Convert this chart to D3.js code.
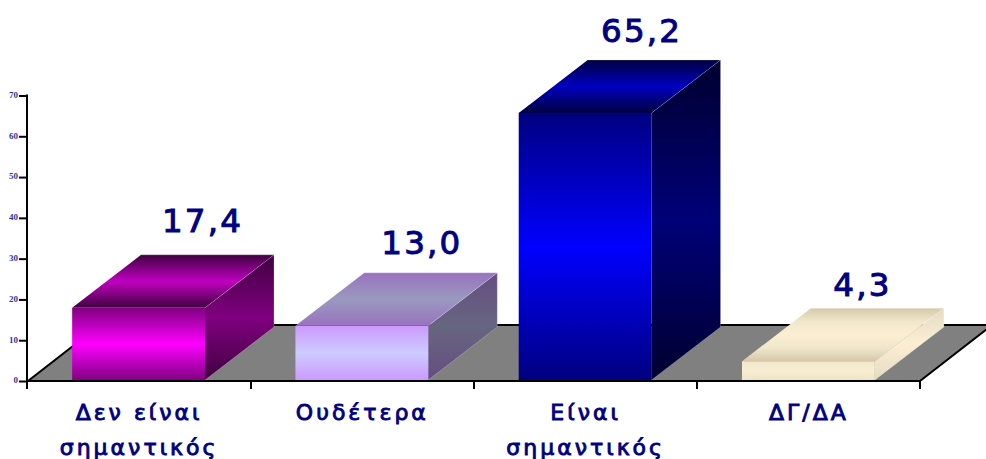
<!DOCTYPE html>
<html><head><meta charset="utf-8">
<script src="https://cdn.jsdelivr.net/npm/d3@7"></script>
<style>html,body{margin:0;padding:0;background:#fff}svg{display:block}</style>
</head><body><svg id="c" width="986" height="459"></svg>
<script>
const categories = [["Δεν είναι","σημαντικός"],["Ουδέτερα"],["Είναι","σημαντικός"],["ΔΓ/ΔΑ"]];
const values = [17.4, 13.0, 65.2, 4.3];
const valueLabels = ["17,4","13,0","65,2","4,3"];
const yTicks = [0,10,20,30,40,50,60,70];

const palettes = [
  {front:["#800080","#ff00ff","#800080"],top:["#400040","#c000c0","#400040"],side:["#400040","#800080","#400040"]},
  {front:["#cc99ff","#ccccff","#cc99ff"],top:["#9973bf","#9999bf","#9973bf"],side:["#664d80","#666680","#664d80"]},
  {front:["#000080","#0000ff","#000080"],top:["#000040","#0000c0","#000040"],side:["#000030","#000078","#000030"]},
  {front:["#f0e8cc","#f9eed2","#ede3c5"],top:["#d5c9a9","#f0e8cc","#fceed2","#efe7cc","#d5c8a8"],side:["#e4dcc2","#fbeed3","#e4dcc2"]}
];
const labelDx = [64,60,56.5,54], labelBaseOffset = [77,72,72,65.5];
const depthX = 69, depthY = 53, lift = 2.2, floorDepthX = 72, floorDepthY = 56;

const svg = d3.select("#c"), defs = svg.append("defs");
const x = d3.scaleBand().domain(d3.range(4)).range([27.5,919.5]).paddingInner(0.405).paddingOuter(0.2);
const y = d3.scaleLinear().domain([0,70]).range([381,95.5]);
const x0 = 28, x1 = 920, y0 = y(0);
const poly = p => p.map(d=>d.join(",")).join(" ");

// floor
svg.append("polygon").attr("points",poly([[x0,y0],[x1,y0],[x1+floorDepthX,y0-floorDepthY],[x0+floorDepthX,y0-floorDepthY]])).attr("fill","#808080");
svg.append("path").attr("d",`M${x0},${y0}L${x0+floorDepthX},${y0-floorDepthY}L${x1+floorDepthX},${y0-floorDepthY}L${x1},${y0}`).attr("fill","none").attr("stroke","#000").attr("stroke-width",2);

function grad(id,cols,ya,yb){
  const g = defs.append("linearGradient").attr("id",id).attr("gradientUnits","userSpaceOnUse").attr("x1",0).attr("x2",0).attr("y1",ya).attr("y2",yb);
  cols.forEach((c,i)=>g.append("stop").attr("offset",i/(cols.length-1)).attr("stop-color",c));
}
values.forEach((v,i)=>{
  const l=x(i), r=l+x.bandwidth(), t=y(v)-lift, b=y0-1, p=palettes[i];
  grad(`f${i}`,p.front,t,b);
  grad(`t${i}`,p.top,t-depthY,t);
  grad(`s${i}`,p.side,t-depthY,b);
  const g = svg.append("g");
  g.append("polygon").attr("points",poly([[r,t],[r+depthX,t-depthY],[r+depthX,b-depthY],[r,b]])).attr("fill",`url(#s${i})`);
  g.append("polygon").attr("points",poly([[l,t],[l+depthX,t-depthY],[r+depthX,t-depthY],[r,t]])).attr("fill",`url(#t${i})`);
  g.append("rect").attr("x",l).attr("y",t).attr("width",r-l).attr("height",b-t).attr("fill",`url(#f${i})`);
  g.append("path").attr("d",`M${r},${t}L${r+depthX},${t-depthY}M${l+depthX},${t-depthY}H${r+depthX}V${b-depthY}L${r},${b}`)
    .attr("fill","none").attr("stroke","#fff").attr("stroke-opacity",0.22).attr("stroke-width",1);
  svg.append("text").attr("x",(l+r)/2+labelDx[i]).attr("y",y(v)-labelBaseOffset[i]-1.5).attr("text-anchor","middle")
    .attr("font-family","DejaVu Sans").attr("font-size",32.5).attr("letter-spacing",2.2)
    .attr("fill","#000080").attr("stroke","#000080").attr("stroke-width",1).text(valueLabels[i]);
});

// axes
const yAxis = d3.axisLeft(y).tickValues(yTicks).tickSize(8).tickPadding(1);
const ya = svg.append("g").attr("transform",`translate(${x0-1},0)`).call(yAxis);
ya.select(".domain").attr("stroke","#000").attr("stroke-width",2).attr("d",`M0,${y(70)-1}V${y0+8}`);
ya.selectAll(".tick line").attr("stroke","#000").attr("stroke-width",2);
ya.selectAll("text").attr("font-family","Liberation Serif").attr("font-weight","bold").attr("font-size",9).attr("fill","#333399").attr("dy","0.2em");

svg.append("line").attr("x1",x0-1).attr("x2",x1).attr("y1",y0).attr("y2",y0).attr("stroke","#000").attr("stroke-width",2);
const tickX = d3.scaleLinear().domain([0,4]).range([x0,x1]);
d3.range(1,5).forEach(k=>svg.append("line").attr("x1",tickX(k)).attr("x2",tickX(k)).attr("y1",y0).attr("y2",y0+8).attr("stroke","#000").attr("stroke-width",2));

categories.forEach((c,i)=>{
  const cx = x(i)+x.bandwidth()/2;
  c.forEach((s,j)=>svg.append("text").attr("x",cx+0.5).attr("y",420+j*35).attr("text-anchor","middle")
    .attr("font-family","DejaVu Sans").attr("font-size",22).attr("letter-spacing",3)
    .attr("fill","#000080").attr("stroke","#000080").attr("stroke-width",0.9).text(s));
});
</script></body></html>
